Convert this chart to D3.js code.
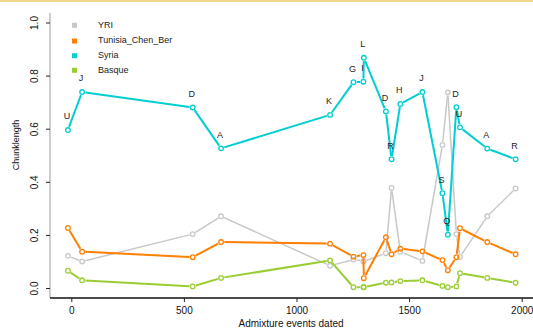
<!DOCTYPE html>
<html><head><meta charset="utf-8">
<script src="https://cdn.jsdelivr.net/npm/d3@7"></script>
<style>body{margin:0;background:#fff}svg{display:block;font-family:"Liberation Sans",Arial,sans-serif}</style>
</head><body><svg id="c" width="533" height="331"></svg>
<script>
const dates = [-15,48,539,665,1149,1253,1297,1299,1397,1422,1461,1559,1648,1672,1710,1726,1847,1973];
const eventLabels = ["U","J","D","A","K","G","I","L","D","R","H","J","S","Q","D","U","A","R"];
const seriesNames = ["YRI","Tunisia_Chen_Ber","Syria","Basque"];
const yri     = [0.121,0.100,0.203,0.270,0.084,0.107,0.102,0.100,0.131,0.377,0.137,0.102,0.539,0.737,0.203,0.117,0.270,0.375];
const tunisia = [0.226,0.137,0.116,0.173,0.167,0.118,0.124,0.037,0.191,0.127,0.148,0.138,0.105,0.067,0.116,0.225,0.173,0.127];
const syria   = [0.595,0.738,0.680,0.526,0.652,0.775,0.777,0.867,0.665,0.485,0.693,0.738,0.357,0.201,0.681,0.605,0.525,0.485];
const basque  = [0.065,0.029,0.006,0.038,0.104,0.003,0.003,0.003,0.020,0.021,0.026,0.029,0.008,0.003,0.006,0.056,0.038,0.020];
const xTicks = [0,500,1000,1500,2000];
const yTicks = [0,0.2,0.4,0.6,0.8,1.0];
const xTitle = "Admixture events dated";
const yTitle = "Chunklength";

const colors = ["#c8c8c8","#ff7f00","#00ced1","#9acd32"];
const widths = [1.5,2,2,2];
const allSeries = [yri,tunisia,syria,basque];

const svg = d3.select("#c");
svg.append("rect").attr("x",0).attr("y",0).attr("width",533).attr("height",2).attr("fill","#efd88c");

const x = d3.scaleLinear().domain([0,2000]).range([71.3,521.7]);
const y = d3.scaleLinear().domain([0,1]).range([288,22.5]);

svg.append("line").attr("x1",50).attr("x2",50).attr("y1",13).attr("y2",298).attr("stroke","#bdbdbd").attr("stroke-width",1.5);
svg.append("line").attr("x1",50).attr("x2",533).attr("y1",298).attr("y2",298).attr("stroke","#111").attr("stroke-width",1.3);

const xa = svg.append("g").attr("transform","translate(0,298)")
  .call(d3.axisBottom(x).tickValues(xTicks).tickSize(4).tickFormat(d3.format("d")));
xa.select(".domain").remove();
xa.selectAll("line").attr("stroke","#222");
xa.selectAll("text").attr("y",9).attr("font-size",10).attr("fill","#111").attr("font-family","Liberation Sans, Arial, sans-serif");

const ya = svg.append("g").attr("transform","translate(50,0)")
  .call(d3.axisLeft(y).tickValues(yTicks).tickSize(4).tickFormat(d3.format(".1f")));
ya.select(".domain").remove();
ya.selectAll("line").attr("stroke","#222");
ya.selectAll("text").attr("transform","rotate(-90)").attr("x",0).attr("y",-15).attr("dy",null)
  .attr("dominant-baseline","middle").attr("text-anchor","middle").attr("font-size",10).attr("fill","#111")
  .attr("font-family","Liberation Sans, Arial, sans-serif");

svg.append("text").attr("x",291).attr("y",324).attr("dominant-baseline","middle").attr("text-anchor","middle")
  .attr("font-size",10).attr("fill","#111").text(xTitle);
svg.append("text").attr("transform","translate(17,145) rotate(-90)").attr("dominant-baseline","middle")
  .attr("text-anchor","middle").attr("font-size",9).attr("fill","#111").text(yTitle);

const order = [0,1,3,2];
const gap = 3.3;
order.forEach(si => {
  const vals = allSeries[si];
  const g = svg.append("g");
  const pts = dates.map((d,i)=>[x(d), y(vals[i])]);
  for (let i=0;i<pts.length-1;i++){
    const [x0,y0]=pts[i],[x1,y1]=pts[i+1];
    const dx=x1-x0, dy=y1-y0, L=Math.hypot(dx,dy);
    if (L>2*gap+0.5){
      const ux=dx/L, uy=dy/L;
      g.append("line").attr("x1",x0+ux*gap).attr("y1",y0+uy*gap).attr("x2",x1-ux*gap).attr("y2",y1-uy*gap)
        .attr("stroke",colors[si]).attr("stroke-width",widths[si]);
    }
  }
  g.selectAll("circle").data(dates).join("circle")
    .attr("cx",d=>x(d)).attr("cy",(d,i)=>y(vals[i])).attr("r",2.3)
    .attr("fill","none").attr("stroke",colors[si]).attr("stroke-width",1.3);
});

svg.append("g").selectAll("text").data(dates).join("text")
  .attr("x",d=>x(d)-1).attr("y",(d,i)=>y(syria[i])-13)
  .attr("text-anchor","middle").attr("dominant-baseline","middle")
  .attr("font-size",9).attr("fill","#222").text((d,i)=>eventLabels[i]);

const lg = svg.append("g");
const ly = [25.3,41,55.7,70.3];
seriesNames.forEach((n,i)=>{
  lg.append("rect").attr("x",72).attr("y",ly[i]-2.5).attr("width",5).attr("height",5).attr("fill",colors[i]);
  lg.append("text").attr("x",98).attr("y",ly[i]).attr("dominant-baseline","middle")
    .attr("font-size",9).attr("fill","#222").text(n);
});
</script></body></html>
